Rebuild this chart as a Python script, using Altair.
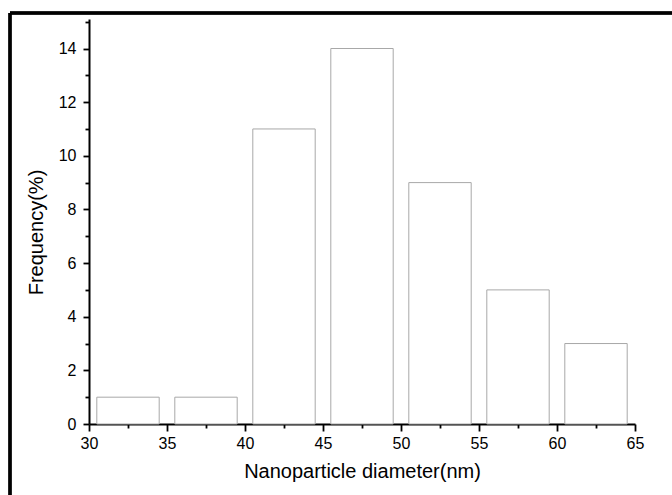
import altair as alt
import pandas as pd

bin_start = [30.5, 35.5, 40.5, 45.5, 50.5, 55.5, 60.5]
bin_end = [34.5, 39.5, 44.5, 49.5, 54.5, 59.5, 64.5]
frequency = [1, 1, 11, 14, 9, 5, 3]

x_ticks = [30, 32.5, 35, 37.5, 40, 42.5, 45, 47.5, 50, 52.5, 55, 57.5, 60, 62.5, 65]
y_ticks = list(range(0, 16))

df = pd.DataFrame({"start": bin_start, "end": bin_end, "freq": frequency})

FONT = "Liberation Sans"

bars = alt.Chart(df).mark_bar(fill="white", stroke="#a8a8a8", strokeWidth=1).encode(
    x=alt.X("start:Q",
            scale=alt.Scale(domain=[30, 65], nice=False, zero=False),
            axis=alt.Axis(values=x_ticks, title="Nanoparticle diameter(nm)",
                          labelExpr="datum.value % 5 === 0 ? datum.label : ''",
                          tickSize=alt.condition("datum.value % 5 === 0", alt.value(7), alt.value(4)),
                          labelPadding=4, titlePadding=10)),
    x2="end:Q",
    y=alt.Y("freq:Q",
            scale=alt.Scale(domain=[0, 15.1], nice=False),
            axis=alt.Axis(values=y_ticks, title="Frequency(%)",
                          labelExpr="datum.value % 2 === 0 ? datum.label : ''",
                          tickSize=alt.condition("datum.value % 2 === 0", alt.value(6), alt.value(4)),
                          labelPadding=7, titlePadding=12, titleY=213)),
    y2=alt.datum(0),
)

frame_left = alt.Chart(df).mark_rule(color="black", strokeWidth=2.5, clip=False).encode(
    x=alt.value(-79), y=alt.value(-6), y2=alt.value(480))
frame_top = alt.Chart(df).mark_rule(color="black", strokeWidth=2.5, clip=False).encode(
    x=alt.value(-79), x2=alt.value(600), y=alt.value(-6))

chart = alt.layer(bars, frame_left, frame_top).properties(
    width=546, height=405,
    autosize=alt.AutoSizeParams(type="none"),
    padding={"left": 89, "top": 19, "right": 37, "bottom": 71},
    background="white",
).configure_view(stroke=None).configure_axis(
    tickWidth=1.8, tickColor="black", domainColor="black", domainWidth=2,
    labelFont=FONT, labelFontSize=16, labelColor="black",
    titleFont=FONT, titleFontSize=20, titleFontWeight="normal", titleColor="black",
    grid=False, labelFlush=False,
)

chart.save("out.html", embed_options={"renderer": "svg", "actions": False})
